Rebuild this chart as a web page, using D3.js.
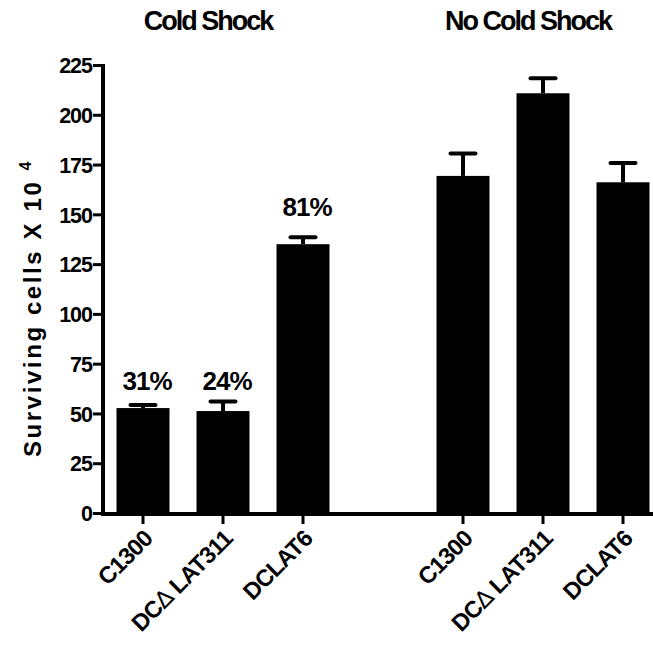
<!DOCTYPE html>
<html>
<head>
<meta charset="utf-8">
<script src="https://cdn.jsdelivr.net/npm/d3@7"></script>
<style>
  html, body { margin: 0; padding: 0; background: #fff; }
  svg { display: block; }
  text { font-family: "Liberation Sans", Arial, Helvetica, sans-serif; font-weight: bold; fill: #000; }
</style>
</head>
<body>
<script>
// ---- data ----
const groups = ["Cold Shock", "No Cold Shock"];
const strains = ["C1300", "DC\u2206 LAT311", "DCLAT6"];
const coldMeans = [52.7, 51.2, 135.0];
const coldErr = [1.5, 4.8, 3.5];
const noColdMeans = [169.3, 210.8, 166.1];
const noColdErr = [11.2, 7.5, 9.7];
const percentLabels = ["31%", "24%", "81%"];
const percentLabelAt = [62, 62, 149];   // value-space anchor of the % annotations
const yTicks = [0, 25, 50, 75, 100, 125, 150, 175, 200, 225];
const yTitle = "Surviving cells X 10";
const yTitleSup = "4";

// ---- build rows ----
const rows = [];
strains.forEach((s, i) => rows.push({ key: "c" + i, group: 0, strain: s, mean: coldMeans[i], err: coldErr[i] }));
strains.forEach((s, i) => rows.push({ key: "n" + i, group: 1, strain: s, mean: noColdMeans[i], err: noColdErr[i] }));
const slots = ["c0", "c1", "c2", "gap", "n0", "n1", "n2"];

const W = 653, H = 647;
const mLeft = 103, mBottom = 514, mTop = 65;

const svg = d3.select("body").append("svg").attr("width", W).attr("height", H);

const x = d3.scaleBand().domain(slots).range([mLeft, mLeft + 560])
  .paddingInner(27 / 80).paddingOuter(27 / 160);
const y = d3.scaleLinear().domain([0, 225]).range([mBottom - 1, mTop]);

// bars
svg.selectAll("rect.bar").data(rows).enter().append("rect")
  .attr("class", "bar")
  .attr("x", d => x(d.key))
  .attr("width", x.bandwidth())
  .attr("y", d => y(d.mean))
  .attr("height", d => y(0) - y(d.mean))
  .attr("fill", "#000");

// error bars (upper only)
const eb = svg.selectAll("g.err").data(rows).enter().append("g").attr("class", "err");
eb.append("line")
  .attr("x1", d => x(d.key) + x.bandwidth() / 2)
  .attr("x2", d => x(d.key) + x.bandwidth() / 2)
  .attr("y1", d => y(d.mean))
  .attr("y2", d => y(d.mean + d.err))
  .attr("stroke", "#000").attr("stroke-width", 4);
eb.append("line")
  .attr("x1", d => x(d.key) + x.bandwidth() / 2 - 12.5)
  .attr("x2", d => x(d.key) + x.bandwidth() / 2 + 12.5)
  .attr("y1", d => y(d.mean + d.err))
  .attr("y2", d => y(d.mean + d.err))
  .attr("stroke", "#000").attr("stroke-width", 4).attr("stroke-linecap", "round");

// y axis
const yAxis = d3.axisLeft(y).tickValues(yTicks).tickSize(10).tickPadding(1);
const gy = svg.append("g").attr("transform", `translate(${mLeft},0)`).call(yAxis);
gy.select(".domain").remove();
gy.selectAll(".tick line").attr("stroke", "#000").attr("stroke-width", 3);
gy.selectAll(".tick text").attr("font-size", 21.5).attr("letter-spacing", "-1px")
  .attr("font-family", "Liberation Sans, Arial, sans-serif").attr("font-weight", "bold")
  .attr("fill", "#000").attr("dy", "0.36em");
svg.append("line").attr("x1", mLeft).attr("x2", mLeft).attr("y1", y(225) - 1).attr("y2", mBottom + 2)
  .attr("stroke", "#000").attr("stroke-width", 4);

// x axis
const xAxis = d3.axisBottom(x).tickValues(rows.map(r => r.key)).tickSize(10).tickFormat(() => "");
const gx = svg.append("g").attr("transform", `translate(0,${mBottom})`).call(xAxis);
gx.select(".domain").remove();
gx.selectAll(".tick line").attr("stroke", "#000").attr("stroke-width", 3);
svg.append("line").attr("x1", mLeft - 2).attr("x2", mLeft + 560).attr("y1", mBottom).attr("y2", mBottom)
  .attr("stroke", "#000").attr("stroke-width", 4);

// x tick labels (rotated)
const xl = svg.selectAll("text.xl").data(rows).enter().append("text")
  .attr("class", "xl")
  .attr("text-anchor", "end")
  .attr("font-size", 23.5)
  .attr("letter-spacing", "-0.7px")
  .attr("transform", d => `translate(${x(d.key) + x.bandwidth() / 2 + 11},${mBottom + 26}) rotate(-45)`);
xl.each(function (d) {
  const t = d3.select(this);
  const parts = d.strain.split("\u2206");
  if (parts.length === 2) {
    t.append("tspan").text(parts[0]);
    t.append("tspan").text("\u2206").attr("font-weight", "normal").attr("font-family", "DejaVu Sans");
    t.append("tspan").text(parts[1]);
  } else {
    t.text(d.strain);
  }
});

// percentage annotations
svg.selectAll("text.pct").data(percentLabels).enter().append("text")
  .attr("class", "pct")
  .attr("text-anchor", "middle")
  .attr("font-size", 26)
  .attr("letter-spacing", "-1px")
  .attr("x", (d, i) => x(rows[i].key) + x.bandwidth() / 2 + 4)
  .attr("y", (d, i) => y(percentLabelAt[i]))
  .text(d => d);

// group titles
groups.forEach((g, gi) => {
  const keys = rows.filter(r => r.group === gi).map(r => r.key);
  const cx = (x(keys[0]) + x(keys[2]) + x.bandwidth()) / 2;
  svg.append("text")
    .attr("text-anchor", "middle")
    .attr("font-size", 27)
    .attr("letter-spacing", "-2px")
    .attr("x", cx - 15)
    .attr("y", 30)
    .text(g);
});

// y title
const yt = svg.append("text")
  .attr("text-anchor", "middle")
  .attr("font-size", 24)
  .attr("letter-spacing", "2.6px")
  .attr("transform", `translate(41,308) rotate(-90)`);
yt.append("tspan").text(yTitle + " ");
yt.append("tspan").text(yTitleSup).attr("font-size", 16).attr("dy", -10);
</script>
</body>
</html>
